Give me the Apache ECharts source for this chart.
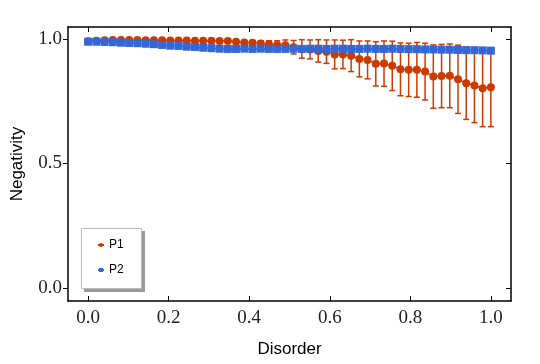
<!DOCTYPE html>
<html>
<head>
<meta charset="utf-8">
<script src="https://cdn.jsdelivr.net/npm/echarts@6/dist/echarts.min.js"></script>
<style>
  html, body { margin: 0; padding: 0; background: #fff; }
  #chart { width: 540px; height: 364px; }
</style>
</head>
<body>
<div id="chart"></div>
<script>
// disorder values (50 points from 0 to 1)
var disorder = [0, 0.0204, 0.0408, 0.0612, 0.0816, 0.102, 0.1224, 0.1429, 0.1633, 0.1837,
  0.2041, 0.2245, 0.2449, 0.2653, 0.2857, 0.3061, 0.3265, 0.3469, 0.3673, 0.3878,
  0.4082, 0.4286, 0.449, 0.4694, 0.4898, 0.5102, 0.5306, 0.551, 0.5714, 0.5918,
  0.6122, 0.6327, 0.6531, 0.6735, 0.6939, 0.7143, 0.7347, 0.7551, 0.7755, 0.7959,
  0.8163, 0.8367, 0.8571, 0.8776, 0.898, 0.9184, 0.9388, 0.9592, 0.9796, 1];

var p1 = [0.991, 0.993, 0.995, 0.996, 0.996, 0.996, 0.996, 0.995, 0.995, 0.995,
  0.994, 0.994, 0.994, 0.993, 0.993, 0.993, 0.992, 0.992, 0.989, 0.986,
  0.985, 0.982, 0.979, 0.976, 0.975, 0.967, 0.960, 0.958, 0.952, 0.949,
  0.938, 0.938, 0.933, 0.920, 0.916, 0.900, 0.901, 0.892, 0.878, 0.876,
  0.876, 0.869, 0.849, 0.851, 0.852, 0.838, 0.822, 0.813, 0.802, 0.806];

var p1Err = [0, 0, 0, 0, 0, 0, 0, 0, 0, 0,
  0, 0, 0, 0, 0, 0, 0, 0, 0.004, 0.006,
  0.008, 0.011, 0.014, 0.017, 0.021, 0.027, 0.037, 0.038, 0.045, 0.047,
  0.058, 0.057, 0.064, 0.072, 0.076, 0.089, 0.091, 0.099, 0.106, 0.107,
  0.110, 0.114, 0.127, 0.127, 0.128, 0.137, 0.145, 0.149, 0.154, 0.158];

var p2 = [0.989, 0.989, 0.988, 0.987, 0.985, 0.984, 0.983, 0.981, 0.979, 0.976,
  0.973, 0.972, 0.969, 0.968, 0.965, 0.963, 0.961, 0.960, 0.960, 0.961,
  0.960, 0.961, 0.960, 0.960, 0.960, 0.961, 0.960, 0.961, 0.961, 0.960,
  0.961, 0.961, 0.960, 0.960, 0.961, 0.960, 0.960, 0.961, 0.960, 0.959,
  0.959, 0.958, 0.958, 0.957, 0.957, 0.956, 0.955, 0.955, 0.954, 0.953];

var xTicks = [0, 0.2, 0.4, 0.6, 0.8, 1.0];
var yTicks = [0, 0.5, 1.0];

var red = "#cc3a00";
var blue = "#3366d6";

var chart = echarts.init(document.getElementById("chart"), null, { renderer: "canvas" });

function pairs(ys) {
  return disorder.map(function (x, i) { return [x, ys[i]]; });
}

var errData = disorder.map(function (x, i) {
  return [x, p1[i] - p1Err[i], p1[i] + p1Err[i]];
});

// error bars drawn through the axis scale
function renderErr(params, api) {
  var lo = api.coord([api.value(0), api.value(1)]);
  var hi = api.coord([api.value(0), api.value(2)]);
  if (Math.abs(lo[1] - hi[1]) < 1) return;
  var w = 3;
  var st = { stroke: red, lineWidth: 1.5 };
  return {
    type: "group",
    children: [
      { type: "line", shape: { x1: lo[0], y1: lo[1], x2: hi[0], y2: hi[1] }, style: st },
      { type: "line", shape: { x1: lo[0] - w, y1: lo[1], x2: lo[0] + w, y2: lo[1] }, style: st },
      { type: "line", shape: { x1: hi[0] - w, y1: hi[1], x2: hi[0] + w, y2: hi[1] }, style: st }
    ]
  };
}

var tickFmt = function (v) { return v.toFixed(1); };
var serif = "Liberation Serif";
var sans = "Liberation Sans";

var option = {
  animation: false,
  grid: { left: 68, right: 29, top: 27, bottom: 63 },
  // legend frame with its drop shadow
  graphic: [
    { type: "rect", z: 5, shape: { x: 84, y: 231, width: 61, height: 61 }, style: { fill: "#999" } },
    { type: "rect", z: 6, shape: { x: 81.5, y: 228.5, width: 60, height: 60 }, style: { fill: "#fff", stroke: "#bbb", lineWidth: 1 } }
  ],
  legend: {
    left: 81,
    top: 228,
    z: 10,
    orient: "vertical",
    padding: [11, 20, 12, 16],
    itemGap: 13,
    itemWidth: 6,
    itemHeight: 5,
    textStyle: { fontFamily: sans, fontSize: 12, color: "#000" },
    data: ["P1", "P2"]
  },
  xAxis: [
    {
      type: "value",
      min: -0.05,
      max: 1.05,
      name: "Disorder",
      nameLocation: "middle",
      nameGap: 40,
      nameTextStyle: { fontFamily: sans, fontSize: 17, color: "#000" },
      axisLine: { onZero: false, lineStyle: { color: "#000", width: 1.5 } },
      axisTick: { inside: true, length: 5, customValues: xTicks, lineStyle: { color: "#000" } },
      axisLabel: { customValues: xTicks, formatter: tickFmt, margin: 8, fontFamily: serif, fontSize: 19, color: "#222" },
      splitLine: { show: false }
    },
    {
      type: "value",
      position: "top",
      min: -0.05,
      max: 1.05,
      axisLine: { onZero: false, lineStyle: { color: "#000", width: 1.5 } },
      axisTick: { inside: true, length: 5, customValues: xTicks, lineStyle: { color: "#000" } },
      axisLabel: { show: false },
      splitLine: { show: false }
    }
  ],
  yAxis: [
    {
      type: "value",
      min: -0.052,
      max: 1.048,
      name: "Negativity",
      nameLocation: "middle",
      nameGap: 42,
      nameTextStyle: { fontFamily: sans, fontSize: 17, color: "#000" },
      axisLine: { onZero: false, lineStyle: { color: "#000", width: 1.5 } },
      axisTick: { inside: false, length: 5, customValues: yTicks, lineStyle: { color: "#000" } },
      axisLabel: { customValues: yTicks, formatter: tickFmt, margin: 6, fontFamily: serif, fontSize: 19, color: "#222" },
      splitLine: { show: false }
    },
    {
      type: "value",
      position: "right",
      min: -0.052,
      max: 1.048,
      axisLine: { onZero: false, lineStyle: { color: "#000", width: 1.5 } },
      axisTick: { inside: true, length: 5, customValues: yTicks, lineStyle: { color: "#000" } },
      axisLabel: { show: false },
      splitLine: { show: false }
    }
  ],
  series: [
    {
      type: "custom",
      renderItem: renderErr,
      data: errData,
      encode: { x: 0, y: [1, 2] },
      z: 1
    },
    {
      name: "P1",
      type: "line",
      data: pairs(p1),
      symbol: "circle",
      symbolSize: 8,
      itemStyle: { color: red },
      lineStyle: { color: red, width: 1.5 },
      z: 2
    },
    {
      name: "P2",
      type: "line",
      data: pairs(p2),
      symbol: "rect",
      symbolSize: 8,
      itemStyle: { color: blue },
      lineStyle: { color: blue, width: 1.5 },
      z: 3
    }
  ]
};

chart.setOption(option);
</script>
</body>
</html>
